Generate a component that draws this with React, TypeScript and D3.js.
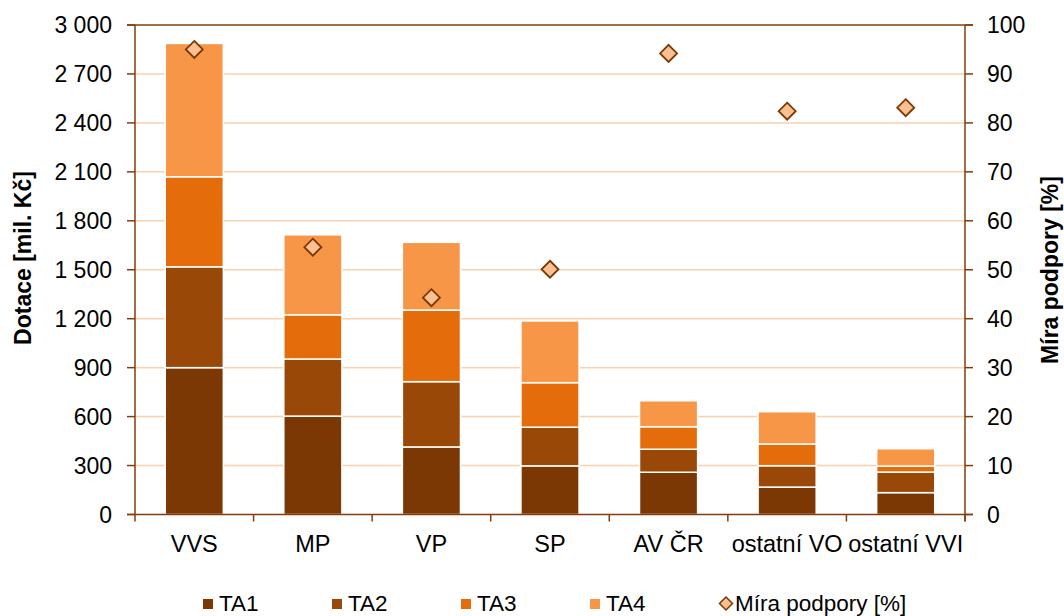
import React from "react";
import * as d3 from "d3";

const categories = ["VVS", "MP", "VP", "SP", "AV ČR", "ostatní VO", "ostatní VVI"];
const seriesNames = ["TA1", "TA2", "TA3", "TA4"];
const ta1 = [900, 603, 414, 298, 259, 168, 134];
const ta2 = [618, 350, 400, 237, 141, 131, 126];
const ta3 = [552, 271, 439, 273, 138, 133, 37];
const ta4 = [817, 490, 415, 378, 159, 198, 106];
const miraPodpory = [95.0, 54.6, 44.3, 50.1, 94.2, 82.4, 83.1];
const leftTicks = [0, 300, 600, 900, 1200, 1500, 1800, 2100, 2400, 2700, 3000];
const rightTicks = [0, 10, 20, 30, 40, 50, 60, 70, 80, 90, 100];

const colors = ["#7B3804", "#994808", "#E46C0A", "#F79646"];
const axisColor = "#843C0C";
const gridColor = "#FBD0AC";
const font = "Arial, 'Liberation Sans', sans-serif";

export default function App() {
  const W = 1064, H = 616;
  const left = 135, right = 965, top = 25, bottom = 514.5;
  const x = d3.scaleBand<string>().domain(categories).range([left, right]).paddingInner(0.51).paddingOuter(0.255);
  const y = d3.scaleLinear().domain([0, 3000]).range([bottom, top]);
  const y2 = d3.scaleLinear().domain([0, 100]).range([bottom, top]);
  const rows = categories.map((c, i) => ({ cat: c, TA1: ta1[i], TA2: ta2[i], TA3: ta3[i], TA4: ta4[i] }));
  const stacked = d3.stack<any>().keys(seriesNames)(rows);
  const step = (right - left) / categories.length;
  const fmt = (v: number) => (v >= 1000 ? `${Math.floor(v / 1000)} ${String(v % 1000).padStart(3, "0")}` : String(v));
  const diamond = (cx: number, cy: number, r: number) => `M${cx},${cy - r}L${cx + r},${cy}L${cx},${cy + r}L${cx - r},${cy}Z`;

  const legendItems = [
    { label: "TA1", x: 203 },
    { label: "TA2", x: 332 },
    { label: "TA3", x: 461 },
    { label: "TA4", x: 590 },
  ];

  return (
    <svg width={W} height={H} style={{ position: "absolute", left: 0, top: 0 }} fontFamily={font}>
      <rect width={W} height={H} fill="#fff" />
      {leftTicks.slice(1, -1).map((t) => (
        <line key={t} x1={left} x2={right} y1={y(t)} y2={y(t)} stroke={gridColor} strokeWidth={1.5} />
      ))}
      {stacked.map((s, si) =>
        s.map((d, i) => (
          <rect
            key={si + "-" + i}
            x={x(categories[i])}
            width={x.bandwidth()}
            y={y(d[1])}
            height={y(d[0]) - y(d[1])}
            fill={colors[si]}
            stroke="#fff"
            strokeWidth={1.5}
          />
        ))
      )}
      <line x1={left - 8} x2={right + 8} y1={top} y2={top} stroke={axisColor} strokeWidth={1.5} />
      <line x1={left} x2={left} y1={top} y2={bottom + 7} stroke={axisColor} strokeWidth={1.5} />
      <line x1={right} x2={right} y1={top} y2={bottom + 7} stroke={axisColor} strokeWidth={1.5} />
      <line x1={left - 8} x2={right + 8} y1={bottom} y2={bottom} stroke={axisColor} strokeWidth={1.5} />
      {leftTicks.map((t) => (
        <g key={"l" + t}>
          <line x1={left - 8} x2={left} y1={y(t)} y2={y(t)} stroke={axisColor} strokeWidth={1.5} />
          <text x={112} y={y(t)} dy="0.35em" textAnchor="end" fontSize={23} fill="#000">{fmt(t)}</text>
        </g>
      ))}
      {rightTicks.map((t) => (
        <g key={"r" + t}>
          <line x1={right} x2={right + 8} y1={y2(t)} y2={y2(t)} stroke={axisColor} strokeWidth={1.5} />
          <text x={987} y={y2(t)} dy="0.35em" textAnchor="start" fontSize={23} fill="#000">{t}</text>
        </g>
      ))}
      {categories.map((c, i) => (
        <g key={c}>
          <line x1={left + step * (i + 1)} x2={left + step * (i + 1)} y1={bottom} y2={bottom + 7} stroke={axisColor} strokeWidth={1.5} />
          <text x={(x(c) as number) + x.bandwidth() / 2} y={544} dy="0.35em" textAnchor="middle" fontSize={23.5} fill="#000">{c}</text>
        </g>
      ))}
      {miraPodpory.map((v, i) => (
        <path key={"m" + i} d={diamond((x(categories[i]) as number) + x.bandwidth() / 2, y2(v), 8.5)} fill="#FAC090" stroke="#7B3804" strokeWidth={1.8} />
      ))}
      <text transform={`translate(31,258) rotate(-90)`} textAnchor="middle" fontSize={23} fontWeight="bold" fill="#000">Dotace [mil. Kč]</text>
      <text transform={`translate(1058,270) rotate(-90)`} textAnchor="middle" fontSize={23} fontWeight="bold" fill="#000">Míra podpory [%]</text>
      {legendItems.map((l, i) => (
        <g key={l.label}>
          <rect x={l.x} y={599} width={10} height={10} fill={colors[i]} />
          <text x={l.x + 16} y={603.5} dy="0.35em" fontSize={22.5} fill="#000">{l.label}</text>
        </g>
      ))}
      <path d={diamond(726, 603.5, 6.5)} fill="#FAC090" stroke="#7B3804" strokeWidth={1.5} />
      <text x={735} y={603.5} dy="0.35em" fontSize={22.5} fill="#000">Míra podpory [%]</text>
    </svg>
  );
}
